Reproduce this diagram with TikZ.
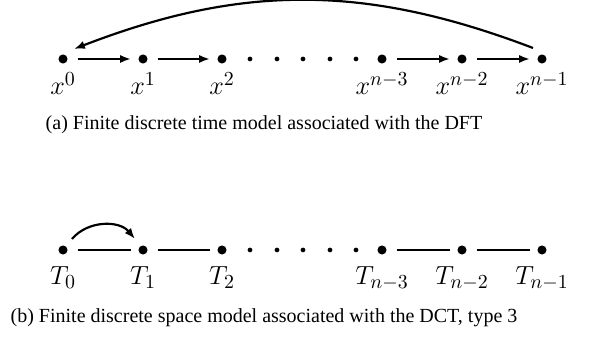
\documentclass[tikz,border=0pt]{standalone}
\usepackage{fontspec}
\setmainfont{Liberation Serif}
\usepackage{amsmath}
\usetikzlibrary{arrows.meta, positioning, calc}

\begin{document}
\begin{tikzpicture}[x=0.55pt, y=0.55pt, line width=1.2pt]
    \useasboundingbox (0,0) rectangle (597,339);
    % (a) time model: six points, the last one wraps back to the first
    \foreach \x/\name/\lab in {63/a0/x^0, 143/a1/x^1, 222/a2/x^2,
                               382/a3/x^{n-3}, 462/a4/x^{n-2}, 542/a5/x^{n-1}} {
        \node[circle, fill=black, inner sep=0pt, minimum size=5pt] (\name) at (\x, 280) {};
        \node[font=\fontsize{15}{18}\selectfont, anchor=base] (\name l) at ($(\name)+(0,-36)$) {$\lab$};
    }
    \foreach \x/\name in {250/ad1, 277/ad2, 303/ad3, 330/ad4, 356/ad5} {
        \node[circle, fill=black, inner sep=0pt, minimum size=2.6pt] (\name) at (\x, 280) {};
    }
    \draw[-{Latex[length=6pt, width=4.5pt]}, shorten <=5pt, shorten >=3.5pt] (a0) -- (a1);
    \draw[-{Latex[length=6pt, width=4.5pt]}, shorten <=5pt, shorten >=3.5pt] (a1) -- (a2);
    \draw[-{Latex[length=6pt, width=4.5pt]}, shorten <=5pt, shorten >=3.5pt] (a3) -- (a4);
    \draw[-{Latex[length=6pt, width=4.5pt]}, shorten <=5pt, shorten >=3.5pt] (a4) -- (a5);
    \coordinate (aR) at ($(a5)+(-9,11)$);
    \coordinate (aL) at ($(a0)+(11,10)$);
    \draw[-{Latex[length=6pt, width=4.5pt]}] (aR) to[bend right=21] (aL);
    \node[font=\fontsize{11}{13}\selectfont] (capa) at (264, 214) {(a) Finite discrete time model associated with the DFT};

    % (b) space model: six points, one hop from T_0 to T_1
    \foreach \x/\name/\lab in {63/b0/T_0, 143/b1/T_1, 222/b2/T_2,
                               382/b3/T_{n-3}, 462/b4/T_{n-2}, 542/b5/T_{n-1}} {
        \node[circle, fill=black, inner sep=0pt, minimum size=5pt] (\name) at (\x, 89) {};
        \node[font=\fontsize{15}{18}\selectfont, anchor=base] (\name l) at ($(\name)+(0,-35)$) {$\lab$};
    }
    \foreach \x/\name in {250/bd1, 277/bd2, 303/bd3, 330/bd4, 356/bd5} {
        \node[circle, fill=black, inner sep=0pt, minimum size=2.6pt] (\name) at (\x, 89) {};
    }
    \draw[shorten <=5pt, shorten >=3.5pt] (b0) -- (b1);
    \draw[shorten <=5pt, shorten >=3.5pt] (b1) -- (b2);
    \draw[shorten <=5pt, shorten >=3.5pt] (b3) -- (b4);
    \draw[shorten <=5pt, shorten >=3.5pt] (b4) -- (b5);
    \coordinate (bL) at ($(b0)+(9,11)$);
    \coordinate (bR) at ($(b1)+(-8,11)$);
    \draw[-{Latex[length=6pt, width=4.5pt]}] (bL) to[bend left=50] (bR);
    \node[font=\fontsize{11}{13}\selectfont] (capb) at (264, 21) {(b) Finite discrete space model associated with the DCT, type 3};
\end{tikzpicture}
\end{document}
